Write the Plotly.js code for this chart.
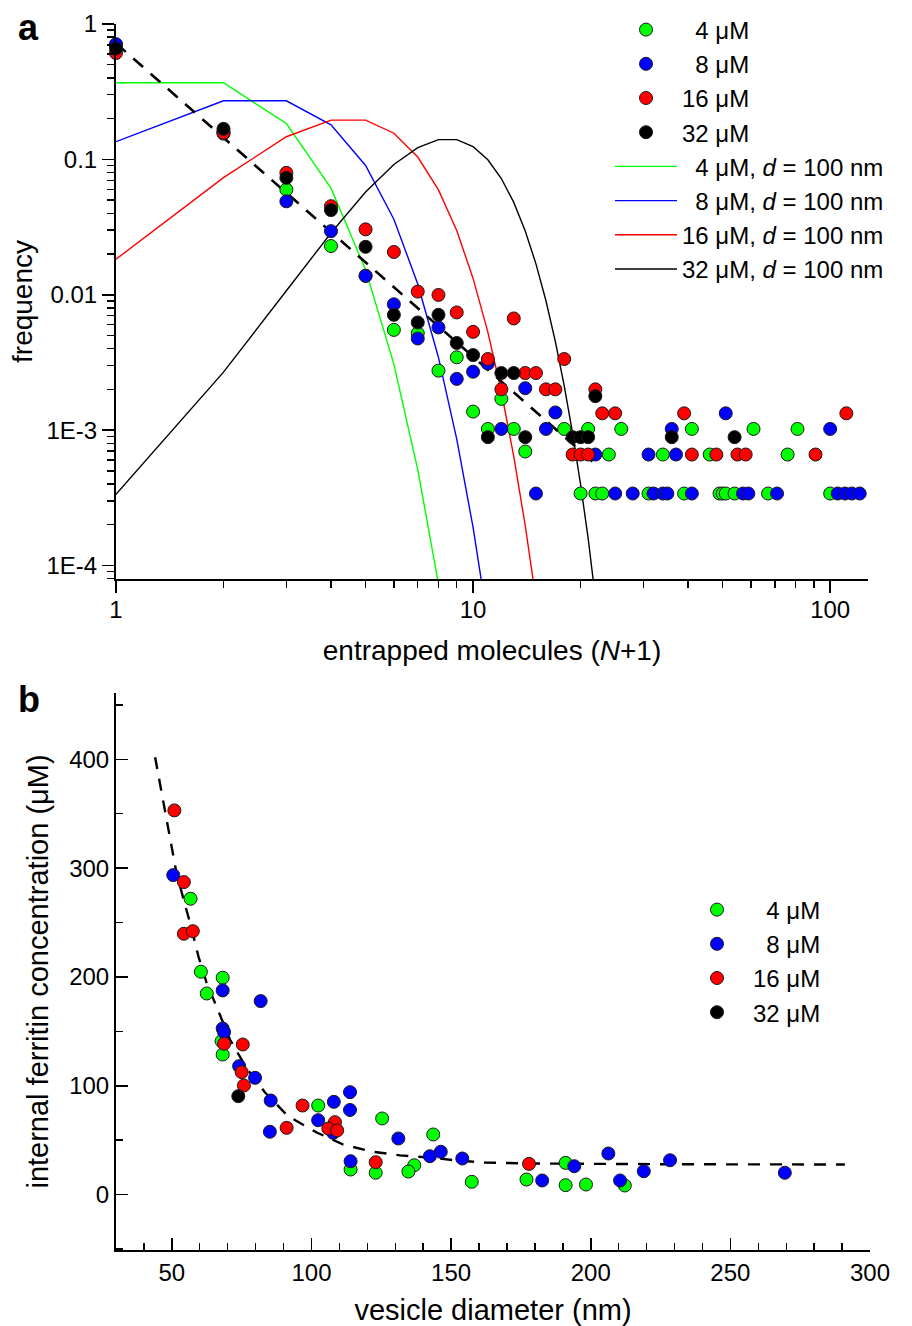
<!DOCTYPE html>
<html>
<head>
<meta charset="utf-8">
<script src="https://cdn.plot.ly/plotly-3.0.1.min.js"></script>
<style>html,body{margin:0;padding:0;background:#fff;}#chart{width:912px;height:1326px;}</style>
</head>
<body>
<div id="chart"></div>
<script>
// ---------- Panel a: measured frequency vs entrapped molecules (N+1) ----------
const a4x  = [1,2,3,4,5,6,7,8,9,10,11,12,13,14,18,20,21,22,23,24,26,31,34,39,41,46,49,50,51,54,61,67,76,81,100];
const a4y  = [0.70,0.16,0.0598,0.0229,0.0138,0.0055,0.0052,0.00275,0.00345,0.00137,0.00102,0.0017,0.00102,0.000695,0.00102,0.00034,0.00102,0.00034,0.00034,0.00066,0.00102,0.00034,0.00066,0.00034,0.00102,0.00066,0.00034,0.00034,0.00034,0.00034,0.00102,0.00034,0.00066,0.00102,0.00034];
const a8x  = [1,2,3,4,5,6,7,8,9,10,11,12,14,15,16,17,22,25,28,31,32,34,35,36,37,41,51,57,59,71,100,105,110,115,121];
const a8y  = [0.71,0.155,0.049,0.0295,0.0138,0.0085,0.00475,0.00573,0.00239,0.0027,0.0031,0.00102,0.00204,0.00034,0.00102,0.00135,0.00066,0.00034,0.00034,0.00066,0.00034,0.00034,0.00034,0.00102,0.00066,0.00034,0.00133,0.00034,0.00034,0.00034,0.00102,0.00034,0.00034,0.00034,0.00034];
const a16x = [1,2,3,4,5,6,7,8,9,10,11,12,13,14,15,16,17,18,19,20,21,22,23,25,39,41,48,55,58,91,111];
const a16y = [0.61,0.157,0.0795,0.0451,0.0304,0.0207,0.01055,0.00997,0.0074,0.00532,0.00335,0.002,0.00668,0.00264,0.00264,0.002,0.002,0.00335,0.00066,0.00066,0.00066,0.002,0.00133,0.00133,0.00133,0.00066,0.00066,0.00066,0.00066,0.00066,0.00133];
const a32x = [1,2,3,4,5,6,7,8,9,10,11,12,13,14,19,20,21,22,36,54];
const a32y = [0.66,0.168,0.073,0.0422,0.0226,0.0071,0.00624,0.0071,0.0044,0.00358,0.000887,0.00264,0.00264,0.000887,0.000887,0.000887,0.000887,0.00178,0.000887,0.000887];

// model curves, d = 100 nm
const m4x  = [1,2,3,4,5,6,7,8,9];
const m4y  = [0.368,0.368,0.184,0.0613,0.0153,0.00307,0.000511,0.000073,0.0000091];
const m8x  = [1,2,3,4,5,6,7,8,9,10,11];
const m8y  = [0.135,0.271,0.271,0.180,0.0902,0.0361,0.0120,0.00344,0.000859,0.000191,0.000038];
const m16x = [1,2,3,4,5,6,7,8,9,10,11,12,13,14,15];
const m16y = [0.0183,0.0733,0.147,0.195,0.195,0.156,0.104,0.0595,0.0298,0.0132,0.00529,0.00192,0.00064,0.000197,0.000056];
const m32x = [1,2,3,4,5,6,7,8,9,10,11,12,13,14,15,16,17,18,19,20,21,22,23];
const m32y = [0.000335,0.00268,0.0107,0.0286,0.0573,0.0916,0.122,0.140,0.140,0.124,0.0993,0.0722,0.0481,0.0296,0.0169,0.00903,0.00451,0.00212,0.000944,0.000397,0.000159,0.0000606,0.000022];

// power-law fit (dashed)
const fitAx = [1, 22.2];
const fitAy = [0.72, 0.00055];

const aYTickVals = [1,0.1,0.01,0.001,0.0001];
const aYTickText = ['1','0.1','0.01','1E-3','1E-4'];

// ---------- Panel b: internal ferritin concentration vs vesicle diameter ----------
const b4x  = [56.7,60.4,68.2,62.5,67.8,68.2,102.4,125.3,143.6,157.4,114,123,136.8,134.7,177,191,191,198.3,212.2];
const b4y  = [271.9,204.8,199.3,184.8,141,128.7,81.8,69.9,55.2,11.7,23,20,26.9,21.1,13.8,29.1,8.6,9.2,8.3];
const b8x  = [50.5,68.2,81.8,68.2,68.7,74.1,79.8,85.4,108,113.8,113.8,102.4,107.8,85.1,131.1,142.4,146.3,154,114,182.6,194.1,206.3,210.5,219,228.4,269.5];
const b8y  = [293.6,187.6,177.8,152.6,149.2,118,107.3,86.4,85.2,94.1,77.7,68.3,56.7,57.7,51.5,35.2,39.3,33.1,30.6,12.9,26,37.7,12.9,21.4,31.5,20];
const b16x = [50.9,54.3,54.3,57.5,68.7,75.4,75,75.8,96.8,91.1,108.4,106,109.2,123,177.9];
const b16y = [353.1,287.2,239.7,242.1,138.6,137.9,112.5,100.2,81.8,61.3,66.5,60.7,58.9,29.7,28.2];
const b32x = [73.8];
const b32y = [90.4];

const fitBx = [44,46.4,48.2,49.9,51.7,54.7,57.1,59.5,62.4,66.6,70.8,76.8,83.3,91.6,101.9,111.3,121.5,131.7,142.4,152,162.1,180,200,230,260,291];
const fitBy = [402,370,345,320,295,268,244,219,195,169,142.5,116,94,72,57,46,39.5,36,34,31.3,29.4,28.5,28,27.8,27.7,27.6];

const seriesNames = ['\u20074 \u03bcM','\u20078 \u03bcM','16 \u03bcM','32 \u03bcM'];
const modelNames  = ['\u20074 \u03bcM, <i>d</i> = 100 nm','\u20078 \u03bcM, <i>d</i> = 100 nm','16 \u03bcM, <i>d</i> = 100 nm','32 \u03bcM, <i>d</i> = 100 nm'];
const colors = ['#00ff00','#0000ff','#ff0000','#000000'];

// ---------- build ----------
const W = 912, H = 1326;
const FONT = 'Liberation Sans, Arial, Helvetica, sans-serif';
const traces = [];

const modelX = [m4x,m8x,m16x,m32x], modelY = [m4y,m8y,m16y,m32y];
for (let i=0;i<4;i++){
  traces.push({x:modelX[i], y:modelY[i], xaxis:'x', yaxis:'y', mode:'lines', name:modelNames[i],
    line:{color:colors[i], width:1.4}, legend:'legend', legendrank:10+i, hoverinfo:'skip'});
}
traces.push({x:fitAx, y:fitAy, xaxis:'x', yaxis:'y', mode:'lines', showlegend:false,
  line:{color:'#000', width:2.6, dash:'13px,10px'}});

const aX=[a4x,a8x,a16x,a32x], aY=[a4y,a8y,a16y,a32y];
for (let i=0;i<4;i++){
  traces.push({x:aX[i], y:aY[i], xaxis:'x', yaxis:'y', mode:'markers', name:seriesNames[i],
    marker:{color:colors[i], size:13, line:{color:'#1a1a1a', width:1}}, cliponaxis:false,
    legend:'legend', legendrank:1+i});
}

traces.push({x:fitBx, y:fitBy, xaxis:'x2', yaxis:'y2', mode:'lines', showlegend:false,
  line:{color:'#000', width:2.4, dash:'12px,10px'}});
const bX=[b4x,b8x,b16x,b32x], bY=[b4y,b8y,b16y,b32y];
for (let i=0;i<4;i++){
  traces.push({x:bX[i], y:bY[i], xaxis:'x2', yaxis:'y2', mode:'markers', name:seriesNames[i],
    marker:{color:colors[i], size:13, line:{color:'#1a1a1a', width:1}}, cliponaxis:false,
    legend:'legend2', legendrank:1+i});
}

const axCommon = {showline:true, linecolor:'#000', linewidth:2, showgrid:false, zeroline:false,
  tickcolor:'#000', tickwidth:1.6, tickfont:{size:24, color:'#000'}, mirror:false};

const layout = {
  width:W, height:H, margin:{l:0,r:0,t:0,b:0},
  paper_bgcolor:'#fff', plot_bgcolor:'rgba(0,0,0,0)',
  font:{family:FONT, color:'#000', size:24},
  showlegend:true,
  xaxis: Object.assign({}, axCommon, {
    type:'log', range:[0, 2.106], domain:[116/W, 868/W], anchor:'y',
    ticks:'outside', ticklen:12, tickmode:'array', tickvals:[1,10,100], ticktext:['1','10','100'],
    ticklabelstandoff:-4,
    minor:{ticks:'outside', ticklen:7, tickwidth:1.4, tickcolor:'#000', dtick:'D1'},
    title:{text:'entrapped molecules (<i>N</i>+1)', font:{size:28}, standoff:19}
  }),
  yaxis: Object.assign({}, axCommon, {
    type:'log', range:[-4.10, 0], domain:[1-579/H, 1-24/H], anchor:'x',
    ticks:'outside', ticklen:12, tickmode:'array', tickvals:aYTickVals, ticktext:aYTickText,
    minor:{ticks:'outside', ticklen:7, tickwidth:1.4, tickcolor:'#000', dtick:'D1'},
    title:{text:'frequency', font:{size:28}, standoff:6}
  }),
  xaxis2: Object.assign({}, axCommon, {
    range:[30,300], domain:[116/W, 870/W], anchor:'y2',
    ticks:'inside', ticklen:12, tickmode:'linear', tick0:0, dtick:50,
    minor:{ticks:'inside', ticklen:7, tickwidth:1.4, tickcolor:'#000', dtick:10, tick0:0},
    title:{text:'vesicle diameter (nm)', font:{size:29}, standoff:18}
  }),
  yaxis2: Object.assign({}, axCommon, {
    range:[-51,461], domain:[1-1250/H, 1-693/H], anchor:'x2',
    ticks:'inside', ticklen:12, tickmode:'linear', tick0:0, dtick:100,
    minor:{ticks:'inside', ticklen:7, tickwidth:1.4, tickcolor:'#000', dtick:50, tick0:0},
    title:{text:'internal ferritin concentration (\u03bcM)', font:{size:29}, standoff:12}
  }),
  legend:{x:610/W, y:1-7.5/H, xanchor:'left', yanchor:'top', bgcolor:'rgba(0,0,0,0)',
    font:{size:24, family:FONT, color:'#000'}, itemwidth:62, tracegroupgap:0, traceorder:'normal'},
  legend2:{x:681/W, y:1-887.5/H, xanchor:'left', yanchor:'top', bgcolor:'rgba(0,0,0,0)',
    font:{size:24, family:FONT, color:'#000'}, itemwidth:62, tracegroupgap:0, traceorder:'normal'},
  annotations:[
    {text:'<b>a</b>', xref:'paper', yref:'paper', x:16/W, y:1-27/H, xanchor:'left', yanchor:'middle', showarrow:false, font:{size:36}},
    {text:'<b>b</b>', xref:'paper', yref:'paper', x:16/W, y:1-699/H, xanchor:'left', yanchor:'middle', showarrow:false, font:{size:36}}
  ]
};

Plotly.newPlot('chart', traces, layout, {staticPlot:true, displayModeBar:false});
</script>
</body>
</html>
